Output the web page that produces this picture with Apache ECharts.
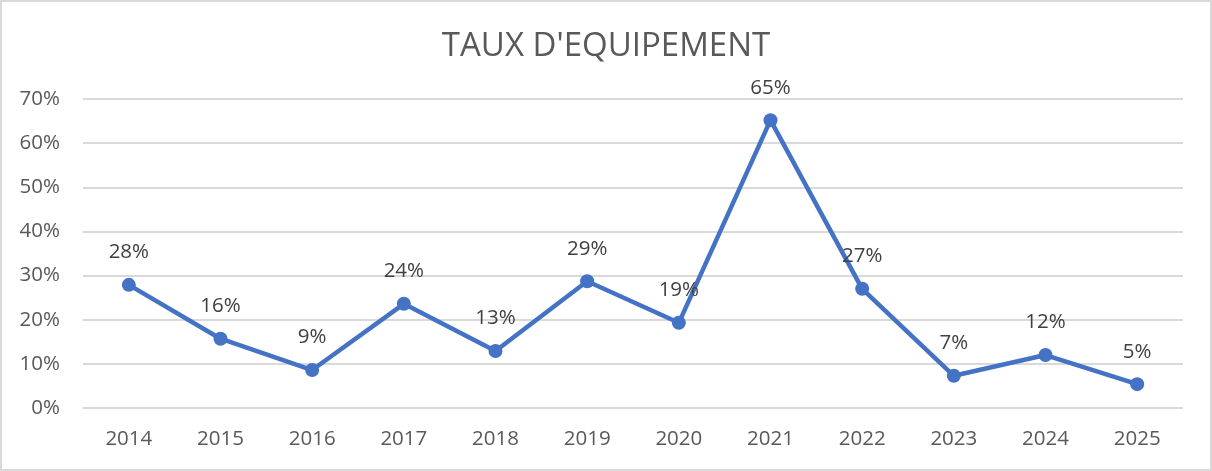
<!DOCTYPE html>
<html>
<head>
<meta charset="utf-8">
<script src="https://cdn.jsdelivr.net/npm/echarts@6/dist/echarts.min.js"></script>
<style>
  html, body { margin: 0; padding: 0; background: #fff; }
  #main { width: 1212px; height: 471px; box-sizing: border-box; border: 2px solid #d9d9d9; }
</style>
</head>
<body>
<div id="main"></div>
<script>
// données
var years = ['2014', '2015', '2016', '2017', '2018', '2019', '2020', '2021', '2022', '2023', '2024', '2025'];
var taux = [0.279, 0.157, 0.086, 0.236, 0.129, 0.287, 0.193, 0.652, 0.270, 0.073, 0.120, 0.054];
var yTicks = [0, 0.1, 0.2, 0.3, 0.4, 0.5, 0.6, 0.7];

var myChart = echarts.init(document.getElementById('main'));
var option = {
  animation: false,
  title: {
    text: "TAUX D'EQUIPEMENT",
    left: 'center',
    top: 23,
    textStyle: { fontFamily: 'Open Sans', fontWeight: 'normal', fontSize: 33, color: '#595959' }
  },
  grid: { left: 81, right: 27, top: 97, bottom: 61 },
  xAxis: {
    type: 'category',
    data: years,
    boundaryGap: true,
    axisLine: { show: false },
    axisTick: { show: false },
    axisLabel: { fontFamily: 'Open Sans', fontSize: 20.5, color: '#595959', margin: 21 }
  },
  yAxis: {
    type: 'value',
    min: yTicks[0],
    max: yTicks[yTicks.length - 1],
    interval: 0.1,
    axisLine: { show: false },
    axisTick: { show: false },
    splitLine: { lineStyle: { color: '#d9d9d9', width: 2 } },
    axisLabel: {
      fontFamily: 'Open Sans', fontSize: 20.5, color: '#595959', margin: 23,
      formatter: function (v) { return Math.round(v * 100) + '%'; }
    }
  },
  series: [{
    type: 'line',
    data: taux,
    symbol: 'circle',
    symbolSize: 14,
    lineStyle: { color: '#4472C4', width: 4.5 },
    itemStyle: { color: '#4472C4' },
    label: {
      show: true,
      position: 'top',
      distance: 15,
      fontFamily: 'Open Sans',
      fontSize: 20.5,
      color: '#404040',
      formatter: function (p) { return Math.round(p.value * 100) + '%'; }
    }
  }]
};
myChart.setOption(option);
</script>
</body>
</html>
